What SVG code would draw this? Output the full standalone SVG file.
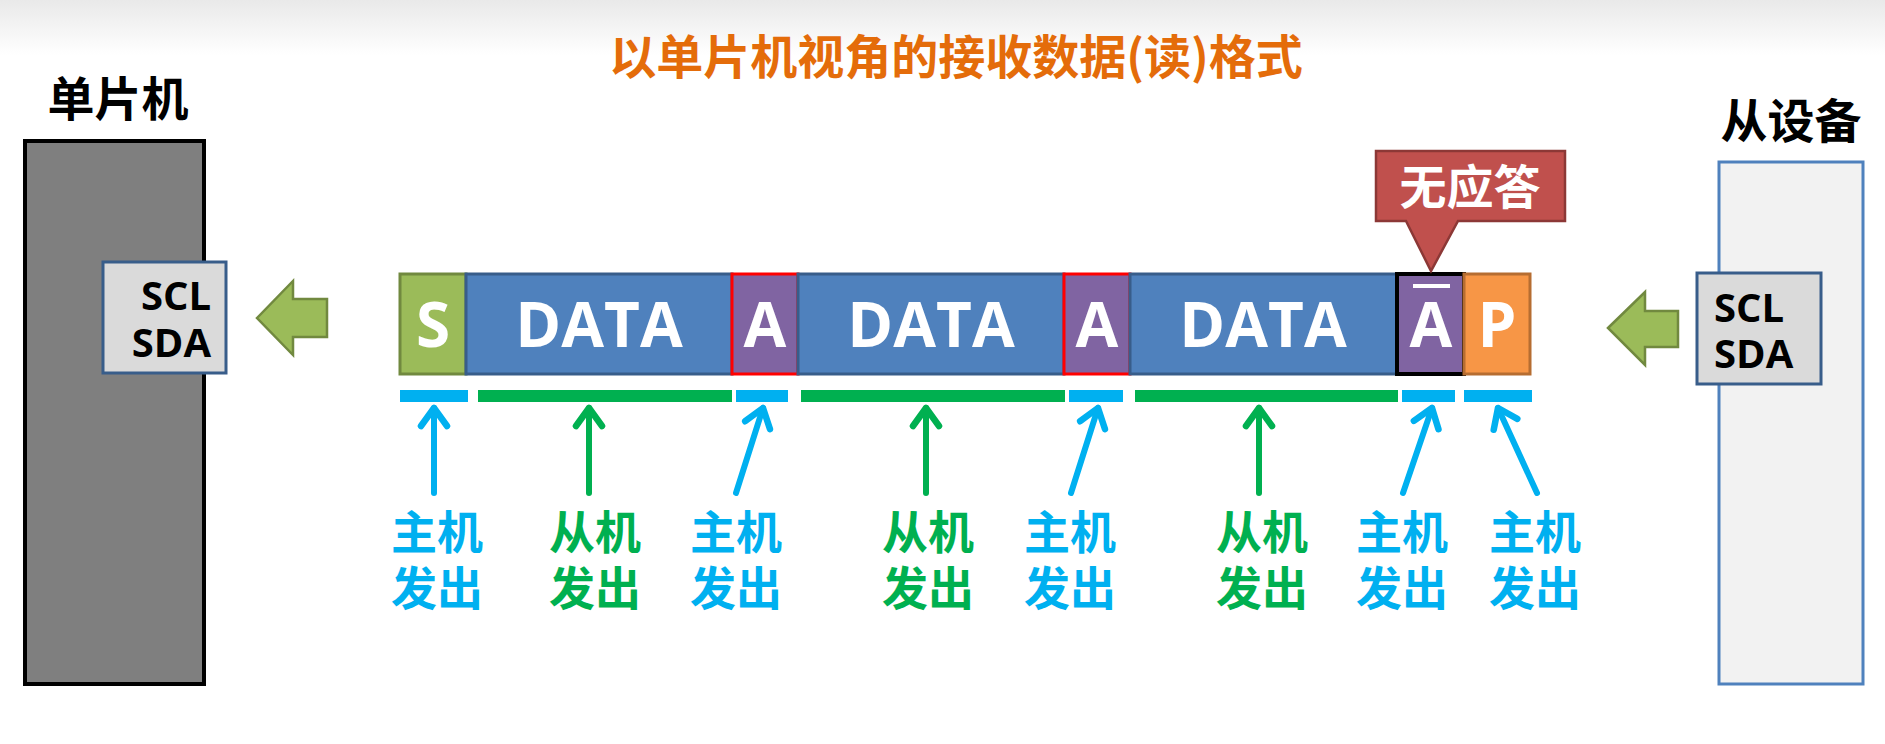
<svg xmlns="http://www.w3.org/2000/svg" width="1885" height="744" viewBox="0 0 1885 744">
<defs>
<linearGradient id="topbg" x1="0" y1="0" x2="0" y2="1">
<stop offset="0" stop-color="#E9E9E9"/>
<stop offset="1" stop-color="#FFFFFF"/>
</linearGradient>
<marker id="mb" markerUnits="userSpaceOnUse" markerWidth="40" markerHeight="40" viewBox="-20 -20 40 40" refX="0" refY="0" orient="auto" overflow="visible">
<path d="M-18,-13 L0,0 L-18,13" fill="none" stroke="#00B0F0" stroke-width="6.5" stroke-linecap="round" stroke-linejoin="round"/>
</marker>
<marker id="mg" markerUnits="userSpaceOnUse" markerWidth="40" markerHeight="40" viewBox="-20 -20 40 40" refX="0" refY="0" orient="auto" overflow="visible">
<path d="M-18,-13 L0,0 L-18,13" fill="none" stroke="#00B050" stroke-width="6.5" stroke-linecap="round" stroke-linejoin="round"/>
</marker>
</defs>
<style>
.cjk{font-family:"Noto Sans CJK SC","Noto Sans",sans-serif;font-weight:bold;}
.lat{font-family:"Open Sans","Liberation Sans",sans-serif;font-weight:bold;}
.seg{fill:#FFFFFF;font-size:62px;text-anchor:middle;}
.pin{fill:#000000;font-size:40px;}
.lbl{font-size:46px;text-anchor:middle;}
.blue{fill:#00B0F0;}
.green{fill:#00B050;}
.ab{stroke:#00B0F0;stroke-width:6;fill:none;stroke-linecap:round;marker-end:url(#mb);}
.ag{stroke:#00B050;stroke-width:6;fill:none;stroke-linecap:round;marker-end:url(#mg);}
.garrow{fill:#9BBB59;stroke:#71893F;stroke-width:2.5;stroke-linejoin:miter;}
.pinbox{fill:#DADADA;stroke:#385D8A;stroke-width:3;}
</style>
<rect x="0" y="0" width="1885" height="744" fill="#FFFFFF"/>
<rect x="0" y="0" width="1885" height="55" fill="url(#topbg)"/>

<text class="cjk" x="956" y="74" font-size="47" fill="#E46C0A" text-anchor="middle">以单片机视角的接收数据(读)格式</text>

<g id="mcu">
<text class="cjk" x="118" y="116" font-size="47" fill="#000000" text-anchor="middle">单片机</text>
<rect x="25" y="141" width="179" height="543" fill="#7F7F7F" stroke="#000000" stroke-width="4"/>
</g>
<g id="mcu-pins">
<rect class="pinbox" x="103" y="262" width="123" height="111"/>
<text class="lat pin" x="211" y="310" text-anchor="end">SCL</text>
<text class="lat pin" x="211" y="357" text-anchor="end">SDA</text>
</g>

<g id="slave">
<text class="cjk" x="1791" y="138" font-size="47" fill="#000000" text-anchor="middle">从设备</text>
<rect x="1719" y="162" width="144" height="522" fill="#F2F2F2" stroke="#4F81BD" stroke-width="3"/>
</g>
<g id="slave-pins">
<rect class="pinbox" x="1697" y="273" width="124" height="111"/>
<text class="lat pin" x="1714" y="322">SCL</text>
<text class="lat pin" x="1714" y="368">SDA</text>
</g>

<g id="arrow-left">
<path class="garrow" d="M257,318 L293,281 L293,299 L327,299 L327,337 L293,337 L293,355 Z"/>
</g>
<g id="arrow-right">
<path class="garrow" d="M1608,328 L1645,292 L1645,311 L1678,311 L1678,347 L1645,347 L1645,365 Z"/>
</g>

<g id="frame">
<g id="seg-s">
<rect x="400" y="274" width="66" height="100" fill="#9BBB59" stroke="#71893F" stroke-width="3"/>
<text class="lat seg" x="433" y="347">S</text>
</g>
<g id="seg-data1">
<rect x="466" y="274" width="266" height="100" fill="#4F81BD" stroke="#385D8A" stroke-width="3"/>
<text class="lat seg" x="599" y="347">DATA</text>
</g>
<g id="seg-a1">
<rect x="732" y="274" width="66" height="100" fill="#8064A2" stroke="#FF0000" stroke-width="3"/>
<text class="lat seg" x="765" y="347">A</text>
</g>
<g id="seg-data2">
<rect x="798" y="274" width="266" height="100" fill="#4F81BD" stroke="#385D8A" stroke-width="3"/>
<text class="lat seg" x="931" y="347">DATA</text>
</g>
<g id="seg-a2">
<rect x="1064" y="274" width="66" height="100" fill="#8064A2" stroke="#FF0000" stroke-width="3"/>
<text class="lat seg" x="1097" y="347">A</text>
</g>
<g id="seg-data3">
<rect x="1130" y="274" width="267" height="100" fill="#4F81BD" stroke="#385D8A" stroke-width="3"/>
<text class="lat seg" x="1263" y="347">DATA</text>
</g>
<g id="seg-nack">
<rect x="1397" y="274" width="67" height="100" fill="#8064A2" stroke="#000000" stroke-width="4"/>
<text class="lat seg" x="1431" y="347">A</text>
<rect x="1413" y="284" width="37" height="4" fill="#FFFFFF"/>
</g>
<g id="seg-p">
<rect x="1464" y="274" width="66" height="100" fill="#F79646" stroke="#B66D31" stroke-width="3"/>
<text class="lat seg" x="1497" y="347">P</text>
</g>
</g>

<g id="callout">
<path d="M1376,151 L1565,151 L1565,221 L1458,221 L1431,271 L1406,221 L1376,221 Z" fill="#C0504D" stroke="#8C3836" stroke-width="2.5"/>
<text class="cjk" x="1470" y="204" font-size="47" fill="#FFFFFF" text-anchor="middle">无应答</text>
</g>

<g id="bars">
<rect x="400" y="390" width="68" height="12" fill="#00B0F0"/>
<rect x="478" y="390" width="254" height="12" fill="#00B050"/>
<rect x="736" y="390" width="52" height="12" fill="#00B0F0"/>
<rect x="801" y="390" width="264" height="12" fill="#00B050"/>
<rect x="1069" y="390" width="54" height="12" fill="#00B0F0"/>
<rect x="1135" y="390" width="263" height="12" fill="#00B050"/>
<rect x="1402" y="390" width="53" height="12" fill="#00B0F0"/>
<rect x="1464" y="390" width="68" height="12" fill="#00B0F0"/>
</g>

<g id="connectors">
<line class="ab" x1="434" y1="493" x2="434" y2="408"/>
<line class="ag" x1="589" y1="493" x2="589" y2="408"/>
<line class="ab" x1="736" y1="493" x2="763" y2="408"/>
<line class="ag" x1="926" y1="493" x2="926" y2="408"/>
<line class="ab" x1="1071" y1="493" x2="1098" y2="408"/>
<line class="ag" x1="1259" y1="493" x2="1259" y2="408"/>
<line class="ab" x1="1403" y1="493" x2="1432" y2="408"/>
<line class="ab" x1="1537" y1="493" x2="1498" y2="408"/>
</g>

<g id="labels">
<text class="cjk lbl blue" x="437" y="549">主机</text>
<text class="cjk lbl blue" x="437" y="605">发出</text>
<text class="cjk lbl green" x="595" y="549">从机</text>
<text class="cjk lbl green" x="595" y="605">发出</text>
<text class="cjk lbl blue" x="736" y="549">主机</text>
<text class="cjk lbl blue" x="736" y="605">发出</text>
<text class="cjk lbl green" x="928" y="549">从机</text>
<text class="cjk lbl green" x="928" y="605">发出</text>
<text class="cjk lbl blue" x="1070" y="549">主机</text>
<text class="cjk lbl blue" x="1070" y="605">发出</text>
<text class="cjk lbl green" x="1262" y="549">从机</text>
<text class="cjk lbl green" x="1262" y="605">发出</text>
<text class="cjk lbl blue" x="1402" y="549">主机</text>
<text class="cjk lbl blue" x="1402" y="605">发出</text>
<text class="cjk lbl blue" x="1535" y="549">主机</text>
<text class="cjk lbl blue" x="1535" y="605">发出</text>
</g>
</svg>
